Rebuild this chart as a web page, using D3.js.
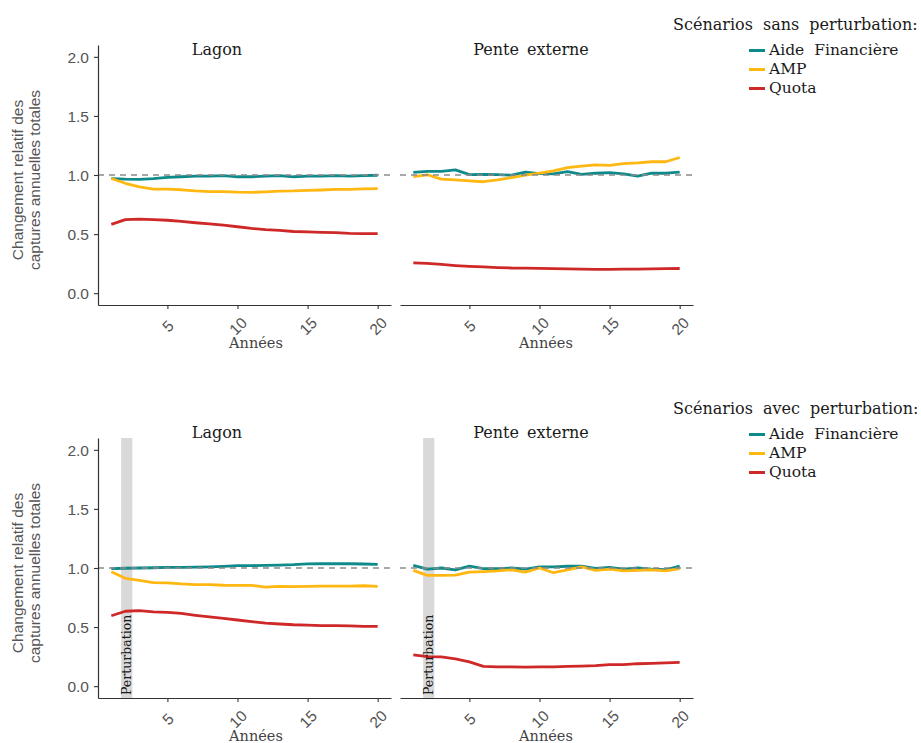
<!DOCTYPE html>
<html>
<head>
<meta charset="utf-8">
<script src="https://cdn.jsdelivr.net/npm/d3@7"></script>
<style>
  html, body { margin: 0; padding: 0; background: #fff; }
  svg { display: block; }
</style>
</head>
<body>
<svg id="chart" width="921" height="743"></svg>
<script>
// ---------------- DATA ----------------
const years = [1,2,3,4,5,6,7,8,9,10,11,12,13,14,15,16,17,18,19,20];
const xTickValues = [5, 10, 15, 20];
const yTickValues = [0, 0.5, 1.0, 1.5, 2.0];
const scenarioNames = ["Aide Financière", "AMP", "Quota"];
const zoneNames = ["Lagon", "Pente externe"];
const legendTitles = ["Scénarios sans perturbation:", "Scénarios avec perturbation:"];
const referenceValue = 1.0;
const perturbationWindow = [1.7, 2.5];
const perturbationLabel = "Perturbation";

// sans perturbation
const sansLagonAide  = [0.970,0.965,0.963,0.970,0.980,0.985,0.990,0.990,0.995,0.985,0.985,0.990,0.995,0.985,0.990,0.990,0.995,0.990,0.995,0.998];
const sansLagonAMP   = [0.970,0.930,0.900,0.880,0.880,0.875,0.865,0.860,0.860,0.855,0.853,0.858,0.863,0.865,0.870,0.873,0.878,0.878,0.883,0.884];
const sansLagonQuota = [0.582,0.622,0.627,0.622,0.617,0.607,0.596,0.586,0.575,0.562,0.548,0.537,0.531,0.522,0.518,0.515,0.512,0.506,0.504,0.504];
const sansPenteAide  = [1.023,1.031,1.031,1.043,1.003,1.006,1.003,0.998,1.025,1.012,1.010,1.028,1.006,1.015,1.020,1.010,0.990,1.015,1.015,1.025];
const sansPenteAMP   = [0.986,1.002,0.965,0.958,0.950,0.943,0.958,0.978,0.998,1.015,1.035,1.063,1.075,1.085,1.082,1.097,1.102,1.112,1.112,1.148];
const sansPenteQuota = [0.257,0.252,0.243,0.234,0.227,0.222,0.217,0.213,0.212,0.210,0.208,0.206,0.204,0.201,0.202,0.204,0.204,0.205,0.207,0.209];
// avec perturbation
const avecLagonAide  = [0.995,0.998,1.000,1.002,1.005,1.006,1.008,1.010,1.014,1.020,1.020,1.023,1.025,1.028,1.035,1.036,1.036,1.036,1.034,1.030];
const avecLagonAMP   = [0.969,0.913,0.895,0.876,0.874,0.865,0.860,0.859,0.854,0.853,0.853,0.838,0.845,0.843,0.845,0.846,0.847,0.847,0.850,0.845];
const avecLagonQuota = [0.596,0.634,0.640,0.628,0.625,0.616,0.600,0.586,0.573,0.560,0.546,0.533,0.526,0.520,0.517,0.513,0.512,0.511,0.506,0.506];
const avecPenteAide  = [1.023,0.990,1.000,0.985,1.015,0.995,0.995,1.000,0.990,1.010,1.010,1.015,1.015,0.997,1.005,0.990,1.000,0.990,0.985,1.015];
const avecPenteAMP   = [0.980,0.938,0.938,0.940,0.965,0.970,0.975,0.985,0.965,1.000,0.960,0.985,1.010,0.980,0.990,0.975,0.980,0.985,0.975,0.995];
const avecPenteQuota = [0.265,0.250,0.248,0.232,0.206,0.168,0.163,0.163,0.162,0.164,0.164,0.167,0.170,0.174,0.182,0.183,0.190,0.193,0.197,0.202];

// ---------------- STYLE / LAYOUT ----------------
const colors = ["#0F8A8B", "#FFB711", "#CF2828"];
const serif = "'DejaVu Serif', serif";
const sans = "'Liberation Sans', Arial, sans-serif";

const rows = [
  { top: 45,  bottom: 305, titleY: 55,  legendY: 30,  xTitleY: 348, pert: false,
    series: [[sansLagonAide, sansLagonAMP, sansLagonQuota], [sansPenteAide, sansPenteAMP, sansPenteQuota]] },
  { top: 438, bottom: 698, titleY: 438, legendY: 414, xTitleY: 741, pert: true,
    series: [[avecLagonAide, avecLagonAMP, avecLagonQuota], [avecPenteAide, avecPenteAMP, avecPenteQuota]] }
];
const cols = [
  { left: 98,  right: 391, titleX: 217, xTitleX: 256 },
  { left: 400, right: 693, titleX: 531, xTitleX: 546 }
];

const svg = d3.select("#chart");

rows.forEach((row, ri) => {
  const y = d3.scaleLinear().domain([-0.1, 2.1]).range([row.bottom, row.top]);

  cols.forEach((col, ci) => {
    const x = d3.scaleLinear().domain([0.05, 20.95]).range([col.left, col.right]);
    const g = svg.append("g");

    // perturbation band
    if (row.pert) {
      g.append("rect")
        .attr("x", x(perturbationWindow[0]))
        .attr("width", x(perturbationWindow[1]) - x(perturbationWindow[0]))
        .attr("y", row.top)
        .attr("height", row.bottom - row.top)
        .attr("fill", "#d9d9d9");
    }

    // lines
    const line = d3.line().x((d, i) => x(years[i])).y(d => y(d));
    row.series[ci].forEach((vals, si) => {
      g.append("path")
        .datum(vals)
        .attr("d", line)
        .attr("fill", "none")
        .attr("stroke", colors[si])
        .attr("stroke-width", 2.8)
        .attr("stroke-linejoin", "round");
    });

    // reference dashed line
    g.append("line")
      .attr("x1", col.left).attr("x2", col.right)
      .attr("y1", y(referenceValue)).attr("y2", y(referenceValue))
      .attr("stroke", "#8a8a8a")
      .attr("stroke-width", 1.4)
      .attr("stroke-dasharray", "6,5");

    // perturbation label
    if (row.pert) {
      const px = x(perturbationWindow[1]) - 1.5;
      g.append("text")
        .attr("transform", `translate(${px},${row.bottom - 3}) rotate(-90)`)
        .attr("font-family", serif)
        .attr("font-size", 12.5)
        .attr("fill", "#1a1a1a")
        .text(perturbationLabel);
    }

    // x axis
    const xAxis = d3.axisBottom(x).tickValues(xTickValues).tickSize(4).tickSizeOuter(0).tickFormat(d3.format("d"));
    const gx = g.append("g").attr("transform", `translate(0,${row.bottom})`).call(xAxis);
    gx.select(".domain").attr("stroke", "#333").attr("stroke-width", 1.2);
    gx.selectAll(".tick line").attr("stroke", "#333").attr("stroke-width", 1.1);
    gx.selectAll(".tick text")
      .attr("font-family", sans)
      .attr("font-size", 15.5)
      .attr("fill", "#555")
      .attr("y", 0).attr("dy", 0)
      .attr("text-anchor", "middle")
      .attr("dominant-baseline", "central")
      .attr("transform", "translate(0,21) rotate(-45)");

    // y axis (left column only)
    if (ci === 0) {
      const yAxis = d3.axisLeft(y).tickValues(yTickValues).tickSize(4).tickSizeOuter(0).tickFormat(d3.format(".1f"));
      const gy = g.append("g").attr("transform", `translate(${col.left},0)`).call(yAxis);
      gy.select(".domain").attr("stroke", "#333").attr("stroke-width", 1.2);
      gy.selectAll(".tick line").attr("stroke", "#333").attr("stroke-width", 1.1);
      gy.selectAll(".tick text")
        .attr("font-family", sans)
        .attr("font-size", 15.5)
        .attr("fill", "#555")
        .attr("x", -9)
        .attr("dy", "0.35em");

      // y title
      const cy = (row.top + row.bottom) / 2 + 5;
      const yt = g.append("text")
        .attr("transform", `translate(23,${cy}) rotate(-90)`)
        .attr("text-anchor", "middle")
        .attr("font-family", sans)
        .attr("font-size", 15.5)
        .attr("fill", "#555");
      yt.append("tspan").attr("x", 0).attr("y", 0).text("Changement relatif des");
      yt.append("tspan").attr("x", 0).attr("y", 17).text("captures annuelles totales");
    }

    // panel title
    g.append("text")
      .attr("x", col.titleX).attr("y", row.titleY)
      .attr("text-anchor", "middle")
      .attr("font-family", serif)
      .attr("font-size", 16)
      .attr("word-spacing", 3)
      .attr("fill", "#1a1a1a")
      .text(zoneNames[ci]);

    // x title
    g.append("text")
      .attr("x", col.xTitleX).attr("y", row.xTitleY)
      .attr("text-anchor", "middle")
      .attr("font-family", serif)
      .attr("font-size", 14.5)
      .attr("fill", "#444")
      .text("Années");
  });

  // legend
  const lg = svg.append("g");
  lg.append("text")
    .attr("x", 673).attr("y", row.legendY)
    .attr("font-family", serif)
    .attr("font-size", 16)
    .attr("word-spacing", 5)
    .attr("fill", "#1a1a1a")
    .text(legendTitles[ri]);
  scenarioNames.forEach((name, si) => {
    const by = row.legendY + 25 + si * 19;
    lg.append("line")
      .attr("x1", 749).attr("x2", 765)
      .attr("y1", by - 4.5).attr("y2", by - 4.5)
      .attr("stroke", colors[si]).attr("stroke-width", 3);
    lg.append("text")
      .attr("x", 769).attr("y", by)
      .attr("font-family", serif)
      .attr("font-size", 15.5)
      .attr("word-spacing", 5)
      .attr("fill", "#1a1a1a")
      .text(name);
  });
});
</script>
</body>
</html>
